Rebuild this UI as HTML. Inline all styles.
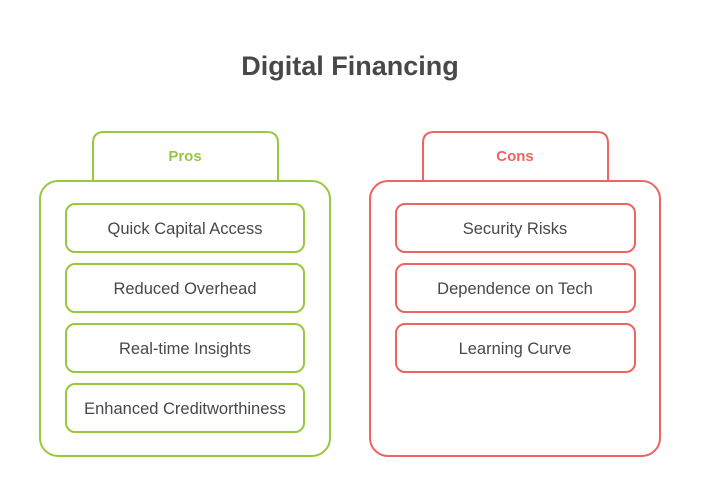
<!DOCTYPE html>
<html><head><style>
body{margin:0;background:#fff;width:701px;height:485px;overflow:hidden}
</style></head><body>
<svg width="701" height="485" xmlns="http://www.w3.org/2000/svg" font-family="Liberation Sans, sans-serif">
<text x="350" y="75" text-anchor="middle" font-size="27" font-weight="bold" fill="#484848">Digital Financing</text>
<g fill="#fff" stroke="#97c83e" stroke-width="2">
<path d="M93 180 V143 Q93 132 104 132 H267 Q278 132 278 143 V180"/>
<rect x="40" y="181" width="290" height="275" rx="18"/>
<rect x="66" y="204" width="238" height="48" rx="9"/>
<rect x="66" y="264" width="238" height="48" rx="9"/>
<rect x="66" y="324" width="238" height="48" rx="9"/>
<rect x="66" y="384" width="238" height="48" rx="9"/>
</g>
<g fill="#fff" stroke="#ee6460" stroke-width="2">
<path d="M423 180 V143 Q423 132 434 132 H597 Q608 132 608 143 V180"/>
<rect x="370" y="181" width="290" height="275" rx="18"/>
<rect x="396" y="204" width="239" height="48" rx="9"/>
<rect x="396" y="264" width="239" height="48" rx="9"/>
<rect x="396" y="324" width="239" height="48" rx="9"/>
</g>
<text x="185" y="161" text-anchor="middle" font-size="15" font-weight="bold" fill="#97c83e">Pros</text>
<text x="515" y="161" text-anchor="middle" font-size="15" font-weight="bold" fill="#ee6460">Cons</text>
<g font-size="16.5" fill="#484848" text-anchor="middle">
<text x="185" y="234">Quick Capital Access</text>
<text x="185" y="294">Reduced Overhead</text>
<text x="185" y="354">Real-time Insights</text>
<text x="185" y="414">Enhanced Creditworthiness</text>
<text x="515" y="234">Security Risks</text>
<text x="515" y="294">Dependence on Tech</text>
<text x="515" y="354">Learning Curve</text>
</g>
</svg>
</body></html>
